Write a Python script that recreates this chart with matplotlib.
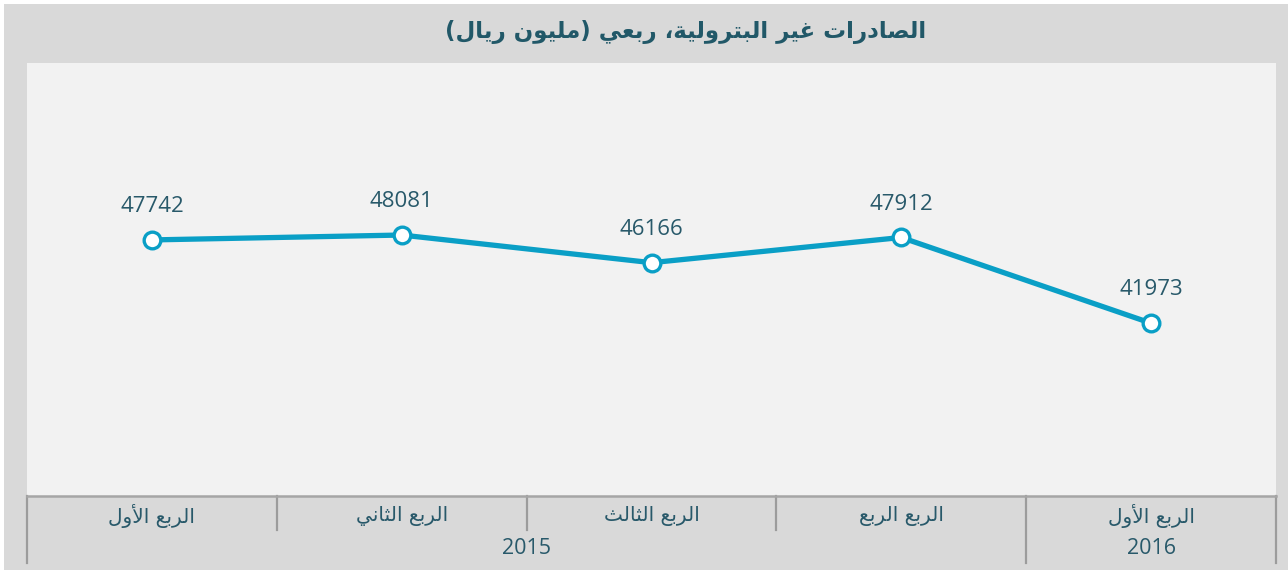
import matplotlib
matplotlib.use("Agg")
import matplotlib.pyplot as plt
import matplotlib.transforms as mtransforms
from matplotlib.patches import Rectangle

# ---------------- data ----------------
title = "الصادرات غير البترولية، ربعي (مليون ريال)"
quarters = ["الربع الأول", "الربع الثاني", "الربع الثالث", "الربع الربع", "الربع الأول"]
years = ["2015", "2016"]
year_spans = [4, 1]
values = [47742, 48081, 46166, 47912, 41973]

# ---------------- minimal arabic shaping ----------------
# matplotlib has no complex text layout, so map letters to presentation forms
FORMS = {
    "ا": ("\uFE8D", "\uFE8E", None, None),
    "أ": ("\uFE83", "\uFE84", None, None),
    "ب": ("\uFE8F", "\uFE90", "\uFE91", "\uFE92"),
    "ة": ("\uFE93", "\uFE94", None, None),
    "ت": ("\uFE95", "\uFE96", "\uFE97", "\uFE98"),
    "ث": ("\uFE99", "\uFE9A", "\uFE9B", "\uFE9C"),
    "د": ("\uFEA9", "\uFEAA", None, None),
    "ر": ("\uFEAD", "\uFEAE", None, None),
    "ص": ("\uFEB9", "\uFEBA", "\uFEBB", "\uFEBC"),
    "ع": ("\uFEC9", "\uFECA", "\uFECB", "\uFECC"),
    "غ": ("\uFECD", "\uFECE", "\uFECF", "\uFED0"),
    "ل": ("\uFEDD", "\uFEDE", "\uFEDF", "\uFEE0"),
    "م": ("\uFEE1", "\uFEE2", "\uFEE3", "\uFEE4"),
    "ن": ("\uFEE5", "\uFEE6", "\uFEE7", "\uFEE8"),
    "و": ("\uFEED", "\uFEEE", None, None),
    "ي": ("\uFEF1", "\uFEF2", "\uFEF3", "\uFEF4"),
}
LAM_ALEF = {"ا": ("\uFEFB", "\uFEFC"), "أ": ("\uFEF7", "\uFEF8")}


def shape(text):
    out = []
    prev = None
    i = 0
    while i < len(text):
        c = text[i]
        nxt = text[i + 1] if i + 1 < len(text) else None
        prev_joins = prev in FORMS and FORMS[prev][2] is not None
        if c == "ل" and nxt in LAM_ALEF:
            out.append(LAM_ALEF[nxt][1 if prev_joins else 0])
            prev = "ا"
            i += 2
            continue
        if c in FORMS:
            iso, fin, ini, med = FORMS[c]
            next_joins = nxt in FORMS and ini is not None
            if prev_joins and next_joins:
                out.append(med)
            elif prev_joins:
                out.append(fin)
            elif next_joins:
                out.append(ini)
            else:
                out.append(iso)
        else:
            out.append(c)
        prev = c
        i += 1
    vis = "".join(reversed(out))
    return vis.translate(str.maketrans("()", ")("))


# ---------------- figure ----------------
W, H = 1288, 570
line_col = "#0a9fc6"
text_col = "#28596a"
title_col = "#215868"
sep_col = "#9c9c9c"
ar_font = ["DejaVu Sans"]
num_font = ["Open Sans", "DejaVu Sans"]

fig = plt.figure(figsize=(W / 100, H / 100), dpi=100)
fig.patch.set_facecolor("white")
fig.add_artist(Rectangle((4 / W, 0), 1 - 4 / W, 1 - 4 / H, transform=fig.transFigure,
                         facecolor="#d9d9d9", edgecolor="none", zorder=-10))


def fx(px):
    return px / W


def fy(py):
    return 1 - py / H


left, right, top, bottom = 27, 1276, 63, 496
ax = fig.add_axes([fx(left), fy(bottom), (right - left) / W, (bottom - top) / H])
ax.set_facecolor("#f2f2f2")

x = list(range(len(values)))
ax.plot(x, values, color=line_col, lw=3.8, marker="o", ms=12,
        markerfacecolor="white", markeredgecolor=line_col, markeredgewidth=2.4,
        solid_capstyle="round", zorder=3, clip_on=False)
for xi, v in zip(x, values):
    ax.annotate(str(v), (xi, v), xytext=(0, 24), textcoords="offset points",
                ha="center", va="center", fontsize=16, color=text_col, family=num_font)

ax.set_xlim(-0.5, len(values) - 0.5)
ax.set_ylim(30000, 60000)
ax.set_xticks([])
ax.set_yticks([])
for s in ["top", "left", "right"]:
    ax.spines[s].set_visible(False)
ax.spines["bottom"].set_color("#a6a6a6")
ax.spines["bottom"].set_linewidth(1.8)

# two-level category axis
trans = mtransforms.blended_transform_factory(ax.transData, fig.transFigure)
edges = [-0.5]
for span in year_spans:
    edges.append(edges[-1] + span)
for k in range(len(values) + 1):
    xe = k - 0.5
    y_end = 563 if xe in edges else 530
    ax.plot([xe, xe], [fy(bottom), fy(y_end)], color=sep_col, lw=1.6,
            transform=trans, clip_on=False)

for xi, q in zip(x, quarters):
    ax.text(xi, fy(516), shape(q), transform=trans, ha="center", va="center",
            fontsize=14.5, color=text_col, family=ar_font)

for k, yr in enumerate(years):
    mid = (edges[k] + edges[k + 1]) / 2
    ax.text(mid, fy(549), yr, transform=trans, ha="center", va="center",
            fontsize=15.5, color=text_col, family=num_font)

fig.text(fx(686), fy(32), shape(title), ha="center", va="center", fontsize=16.5,
         fontweight="bold", color=title_col, family=ar_font)

fig.savefig("out.png", dpi=100, facecolor=fig.get_facecolor())
